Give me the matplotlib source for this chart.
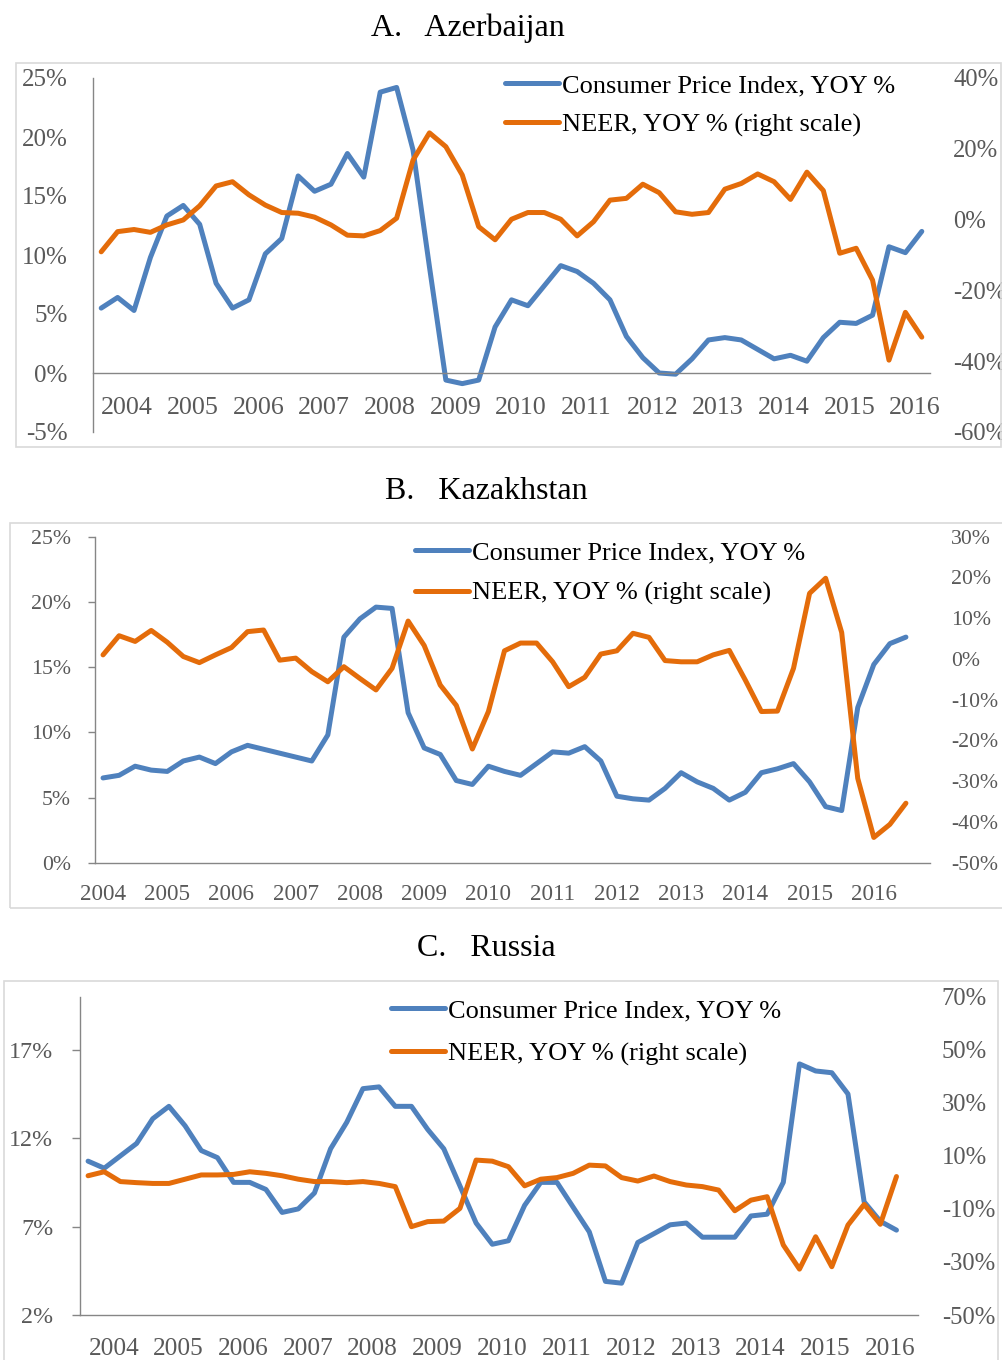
import numpy as np
import matplotlib
matplotlib.use("Agg")
import matplotlib.pyplot as plt
from matplotlib.patches import Rectangle

plt.rcParams['font.family'] = ['Liberation Serif', 'DejaVu Serif']

# quarterly observations, 2004Q1 - 2016Q3
years = [str(y) for y in range(2004, 2017)]
labels = ["Consumer Price Index, YOY %", "NEER, YOY % (right scale)"]

aze_cpi = [5.5, 6.4, 5.3, 9.8, 13.3, 14.2, 12.6, 7.6, 5.5, 6.2,
           10.1, 11.4, 16.7, 15.4, 16.0, 18.6, 16.6, 23.8, 24.2, 18.9,
           9.0, -0.6, -0.9, -0.6, 3.9, 6.2, 5.7, 7.4, 9.1, 8.6,
           7.6, 6.2, 3.1, 1.3, 0.0, -0.1, 1.2, 2.8, 3.0, 2.8,
           2.0, 1.2, 1.5, 1.0, 3.0, 4.3, 4.2, 4.9, 10.7, 10.2, 12.0]
aze_neer = [-9.1, -3.4, -2.8, -3.6, -1.5, -0.1, 3.9, 9.5, 10.7, 7.0,
            4.1, 2.0, 1.8, 0.7, -1.5, -4.4, -4.6, -3.1, 0.4, 16.8,
            24.5, 20.6, 12.6, -2.0, -5.7, 0.1, 2.0, 2.0, 0.1, -4.6,
            -0.6, 5.5, 6.0, 10.0, 7.6, 2.2, 1.5, 2.0, 8.6, 10.2,
            12.9, 10.7, 5.7, 13.4, 8.2, -9.5, -8.1, -17.1, -39.7, -26.2, -33.2]

kaz_cpi = [6.5, 6.7, 7.4, 7.1, 7.0, 7.8, 8.1, 7.6, 8.5, 9.0,
           8.7, 8.4, 8.1, 7.8, 9.8, 17.3, 18.7, 19.6, 19.5, 11.5,
           8.8, 8.3, 6.3, 6.0, 7.4, 7.0, 6.7, 7.6, 8.5, 8.4,
           8.9, 7.8, 5.1, 4.9, 4.8, 5.7, 6.9, 6.2, 5.7, 4.8,
           5.4, 6.9, 7.2, 7.6, 6.2, 4.3, 4.0, 11.9, 15.2, 16.8, 17.3]
kaz_neer = [1.0, 5.7, 4.3, 7.0, 4.1, 0.6, -0.9, 1.0, 2.8, 6.7,
            7.1, -0.3, 0.2, -3.1, -5.6, -1.9, -4.8, -7.6, -2.3, 9.3,
            3.3, -6.4, -11.4, -22.1, -12.9, 2.0, 3.9, 3.9, -0.7, -6.8,
            -4.5, 1.2, 2.0, 6.3, 5.3, -0.4, -0.7, -0.7, 1.0, 2.1,
            -5.2, -12.9, -12.8, -2.3, 16.1, 19.8, 6.5, -29.3, -43.8, -40.6, -35.4]

rus_cpi = [10.7, 10.3, 11.0, 11.7, 13.1, 13.8, 12.7, 11.3, 10.9, 9.5,
           9.5, 9.1, 7.8, 8.0, 8.9, 11.4, 12.9, 14.8, 14.9, 13.8,
           13.8, 12.5, 11.4, 9.3, 7.2, 6.0, 6.2, 8.2, 9.5, 9.5,
           8.1, 6.7, 3.9, 3.8, 6.1, 6.6, 7.1, 7.2, 6.4, 6.4,
           6.4, 7.6, 7.7, 9.5, 16.2, 15.8, 15.7, 14.5, 8.4, 7.3, 6.8]
rus_neer = [2.5, 4.0, 0.3, -0.1, -0.4, -0.4, 1.2, 2.8, 2.8, 3.0,
            4.0, 3.4, 2.5, 1.2, 0.3, 0.3, -0.1, 0.3, -0.4, -1.6,
            -16.7, -14.8, -14.6, -9.8, 8.4, 8.0, 5.9, -1.3, 1.2, 1.8,
            3.4, 6.5, 6.2, 1.8, 0.5, 2.4, 0.3, -1.0, -1.6, -2.9,
            -10.7, -6.7, -5.4, -23.6, -32.7, -20.5, -31.8, -16.1, -8.3, -15.8, 2.2]

BLUE = '#4F81BD'
ORANGE = '#E46C0A'
GRAY = '#595959'
AXIS = '#868686'

W, H = 1003, 1360
fig = plt.figure(figsize=(W / 100, H / 100), dpi=100)


def px_rect(x0, y0, x1, y1):
    # pixel box (top-left origin) -> figure fraction [l, b, w, h]
    return [x0 / W, 1 - y1 / H, (x1 - x0) / W, (y1 - y0) / H]


def panel(box, frame, title, title_xy, cpi, neer, lticks, lim, rticks, rlim,
          xlim, year_off, leg_xy, leg_space, fs_left, fs_year, fs_right,
          lpad, xpad, rpad, ltick_len, xaxis_at=None):
    # light frame around chart area
    fx0, fy0, fx1, fy1 = frame
    fig.add_artist(Rectangle((fx0 / W, 1 - fy1 / H), (fx1 - fx0) / W, (fy1 - fy0) / H,
                             transform=fig.transFigure, fill=False,
                             edgecolor='#D9D9D9', lw=1.2, clip_on=False))
    fig.text(title_xy[0] / W, 1 - title_xy[1] / H, title, fontsize=23,
             ha='center', va='center', color='black')

    ax = fig.add_axes(px_rect(*box))
    ax2 = ax.twinx()
    x = np.arange(len(cpi))
    l1, = ax.plot(x, cpi, color=BLUE, lw=3.6, solid_joinstyle='round', solid_capstyle='round')
    l2, = ax2.plot(x, neer, color=ORANGE, lw=3.6, solid_joinstyle='round', solid_capstyle='round')

    ax.set_xlim(*xlim)
    ax.set_ylim(*lim)
    ax2.set_ylim(*rlim)

    ax.set_yticks(lticks)
    ax.set_yticklabels(['%d%%' % t for t in lticks])
    ax2.set_yticks(rticks)
    ax2.set_yticklabels(['%d%%' % t for t in rticks])
    ax.set_xticks(np.arange(len(years)) * 4 + year_off)
    ax.set_xticklabels(years)

    for s in ['top', 'right']:
        ax.spines[s].set_visible(False)
    for s in ax2.spines.values():
        s.set_visible(False)
    ax.spines['left'].set_color(AXIS)
    ax.spines['bottom'].set_color(AXIS)
    ax.spines['left'].set_linewidth(1.0)
    ax.spines['bottom'].set_linewidth(1.0)
    if xaxis_at is not None:
        ax.spines['bottom'].set_position(('data', xaxis_at))

    ax.tick_params(axis='x', length=0, pad=xpad, labelsize=fs_year, labelcolor=GRAY)
    ax.tick_params(axis='y', length=ltick_len, width=1.0, color=AXIS, pad=lpad,
                   labelsize=fs_left, labelcolor=GRAY)
    ax2.tick_params(axis='y', length=0, pad=rpad, labelsize=fs_right, labelcolor=GRAY)

    ax2.legend([l1, l2], labels, loc='upper left',
               bbox_to_anchor=(leg_xy[0] / W, 1 - leg_xy[1] / H),
               bbox_transform=fig.transFigure, frameon=False, fontsize=19,
               handlelength=2.05, handletextpad=0.12, borderpad=0,
               borderaxespad=0, labelspacing=leg_space)
    return ax, ax2


# A. Azerbaijan
panel((93, 78, 930, 432), (16, 63, 1001, 447), "A.   Azerbaijan", (468, 28),
      aze_cpi, aze_neer, list(range(-5, 30, 5)), (-5, 25),
      list(range(-60, 60, 20)), (-60, 40), (-0.5, 50.5), 1.58,
      (505, 74), 0.58, 18, 18.7, 17.7, 18.2, 17, 16.8, 0, xaxis_at=0)

# B. Kazakhstan
panel((95, 536.7, 930, 862.7), (10, 523, 1005, 908), "B.   Kazakhstan", (486, 491),
      kaz_cpi, kaz_neer, list(range(0, 30, 5)), (0, 25),
      list(range(-50, 40, 10)), (-50, 30), (-0.5, 51.5), 0,
      (415, 541), 0.64, 15.7, 16.6, 15.7, 12.2, 15.5, 15, 5)

# C. Russia
panel((80, 996.7, 918.3, 1315), (4, 981, 998, 1370), "C.   Russia", (486, 948),
      rus_cpi, rus_neer, [2, 7, 12, 17], (2, 20),
      list(range(-50, 90, 20)), (-50, 70), (-0.5, 51.35), 1.6,
      (391, 999), 0.73, 17.3, 18.2, 17.7, 13.4, 16.8, 16.8, 5.8)

fig.savefig('out.png', dpi=100)
